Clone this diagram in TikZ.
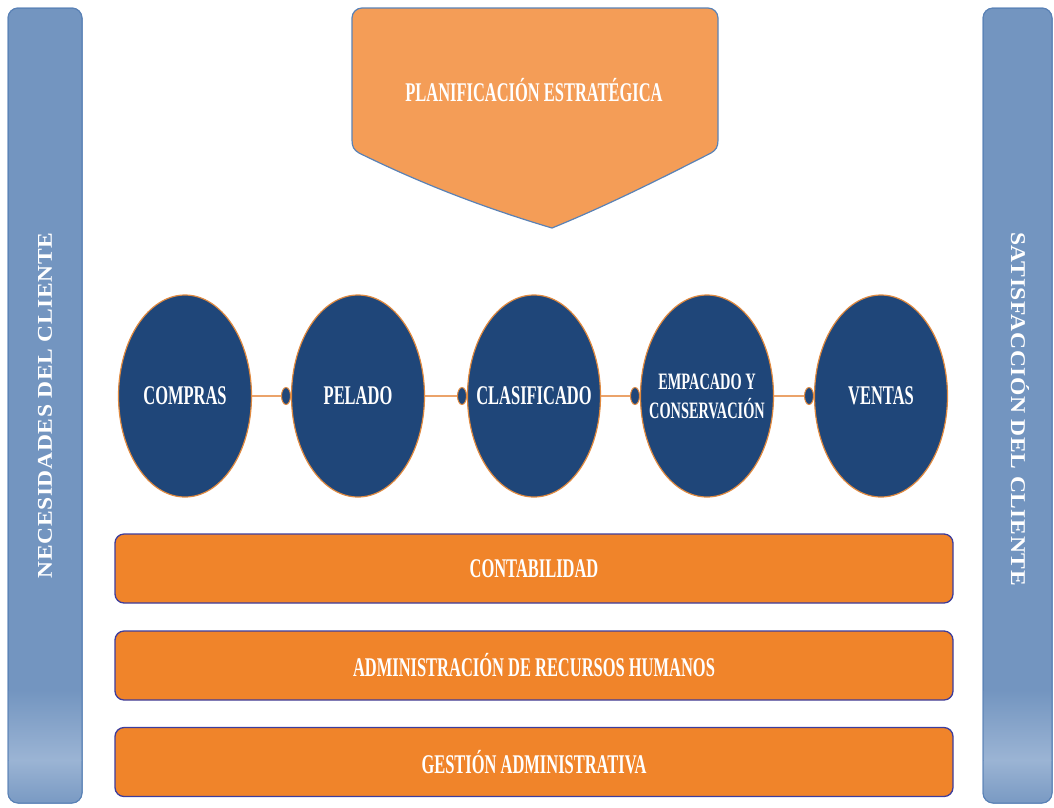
\documentclass[tikz,border=0pt]{standalone}
\usepackage{fontspec}
\usetikzlibrary{shapes.geometric}
\newfontfamily\cf[FakeStretch=0.61]{Liberation Serif}
\newfontfamily\vf[UprightFont=* Bold,FakeStretch=1.12,LetterSpace=3]{Liberation Serif}
\definecolor{navy}{HTML}{1F4679}
\definecolor{sidefill}{HTML}{7395C0}
\definecolor{sidelight}{HTML}{9BB4D4}
\definecolor{sideline}{HTML}{5A82B6}
\definecolor{pentfill}{HTML}{F49D57}
\definecolor{barfill}{HTML}{F0842A}
\definecolor{barline}{HTML}{3D3D9C}
\definecolor{ringline}{HTML}{E08A40}
\definecolor{linkline}{HTML}{EBA36A}
\tikzset{
  proc/.style={ellipse, fill=navy, draw=ringline, line width=1.2pt, minimum width=133, minimum height=202, inner sep=0pt},
  proctext/.style={text=white, align=center, inner sep=0pt, font=\cf\bfseries\fontsize{27}{28}\selectfont},
  dotnode/.style={ellipse, fill=navy, draw=ringline, line width=1pt, minimum width=9, minimum height=17, inner sep=0pt},
  link/.style={draw=linkline, line width=1.8pt},
  areabar/.style={rectangle, rounded corners=9, fill=barfill, draw=barline, line width=1.3pt, minimum width=838, minimum height=69, text=white, font=\cf\bfseries\fontsize{27}{28}\selectfont},
  sidebar/.style={rectangle, rounded corners=10, fill=sidefill, draw=sideline, line width=1pt, minimum height=795},
  sidetext/.style={text=white, font=\vf\fontsize{21}{22}\selectfont},
  pent/.style={fill=pentfill, draw=sideline, line width=1.2pt}
}
\begin{document}
\begin{tikzpicture}[x=1pt,y=-1pt]
\useasboundingbox (0,0) rectangle (1054,807);
% side bars
\node[sidebar, minimum width=74] (lbar) at (45,405.5) {};
\node[sidebar, minimum width=69] (rbar) at (1017.5,405.5) {};
\begin{scope}
  \clip[rounded corners=10] (8.5,8.5) rectangle (81.5,802.5);
  \shade[top color=sidefill, bottom color=sidelight] (8,690) rectangle (82,760);
  \shade[top color=sidelight, bottom color=sidefill!85!sidelight] (8,760) rectangle (82,803);
\end{scope}
\begin{scope}
  \clip[rounded corners=10] (983.5,8.5) rectangle (1051.5,802.5);
  \shade[top color=sidefill, bottom color=sidelight] (983,690) rectangle (1052,760);
  \shade[top color=sidelight, bottom color=sidefill!85!sidelight] (983,760) rectangle (1052,803);
\end{scope}
\draw[draw=sideline, line width=1pt, rounded corners=10] (8,8) rectangle (82,803);
\draw[draw=sideline, line width=1pt, rounded corners=10] (983,8) rectangle (1052,803);
\node[sidetext, rotate=90] (ltext) at (45,405.5) {NECESIDADES DEL CLIENTE};
\node[sidetext, rotate=-90] (rtext) at (1020,409) {SATISFACCIÓN DEL CLIENTE};
% pentagon
\draw[pent] (552,228) .. controls (488,209) and (424,185) .. (359,153)
  .. controls (354,150) and (352,147) .. (352,140)
  [rounded corners=10] -- (352,8) -- (718,8) [sharp corners] -- (718,140)
  .. controls (718,147) and (716,150) .. (711,153)
  .. controls (658,180) and (606,206) .. (552,228) -- cycle;
\node[text=white, font=\cf\bfseries\fontsize{27}{28}\selectfont] (plan) at (534,90) {PLANIFICACIÓN ESTRATÉGICA};
% process ellipses
\node[proc] (c1) at (185,396) {};
\node[proc] (c2) at (358,396) {};
\node[proc] (c3) at (534,396) {};
\node[proc] (c4) at (707,396) {};
\node[proc] (c5) at (881,396) {};
\node[proctext] (t1) at (c1) {COMPRAS};
\node[proctext] (t2) at (c2) {PELADO};
\node[proctext] (t3) at (c3) {CLASIFICADO};
\node[proctext, font=\cf\bfseries\fontsize{23.5}{29}\selectfont] (t4) at (c4) {EMPACADO Y\\CONSERVACIÓN};
\node[proctext] (t5) at (c5) {VENTAS};
\node[dotnode] (d2) at (286,396) {};
\node[dotnode] (d3) at (462,396) {};
\node[dotnode] (d4) at (635,396) {};
\node[dotnode] (d5) at (809,396) {};
\draw[link] (c1.east) -- (d2.west);
\draw[link] (c2.east) -- (d3.west);
\draw[link] (c3.east) -- (d4.west);
\draw[link] (c4.east) -- (d5.west);
% bottom bars
\node[areabar] (b1) at (534,568.5) {CONTABILIDAD};
\node[areabar] (b2) at (534,665.5) {ADMINISTRACIÓN DE RECURSOS HUMANOS};
\node[areabar] (b3) at (534,762) {GESTIÓN ADMINISTRATIVA};
\end{tikzpicture}
\end{document}
